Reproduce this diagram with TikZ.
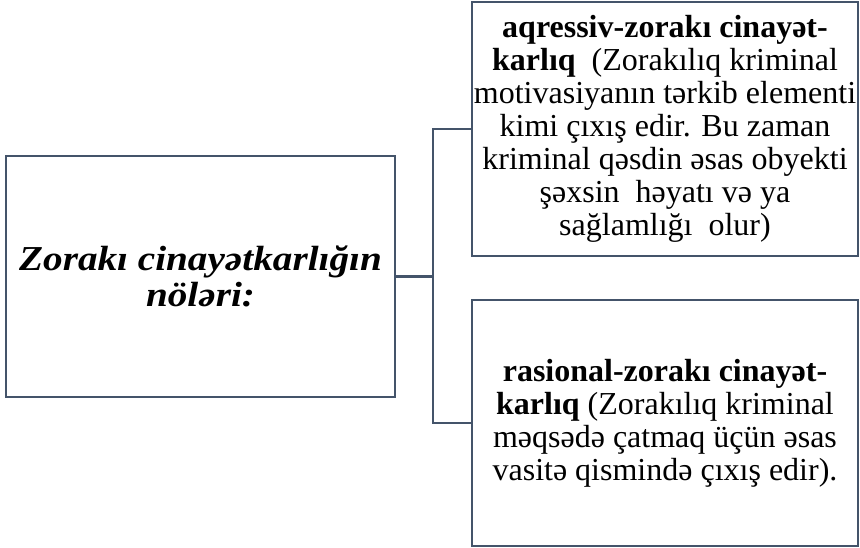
\documentclass[tikz,border=0pt]{standalone}
\usepackage{fontspec}
\setmainfont{Liberation Serif}
\newfontfamily\leftfam[FakeStretch=1.12]{Liberation Serif}
\definecolor{edge}{RGB}{68,84,106}
\begin{document}
\begin{tikzpicture}[x=1pt,y=-1pt,
  box/.style={draw=edge,line width=2.2pt,rectangle,inner sep=0pt,align=center},
  link/.style={draw=edge,line width=2.2pt},
  leftfont/.style={font=\leftfam\fontsize{35}{35.5}\selectfont\bfseries\itshape},
  rightfont/.style={font=\fontsize{32}{33}\selectfont}]
\useasboundingbox (0,0) rectangle (860,547);
\node[box,leftfont,minimum width=389pt,minimum height=241pt] (L) at (200.5,276.5)
  {Zorakı cinayətkarlığın\\nöləri:};
\node[box,rightfont,minimum width=386pt,minimum height=254pt] (T) at (665,129)
  {\textbf{aqressiv-zorakı cinayət-}\\\textbf{karlıq}~ (Zorakılıq kriminal\\motivasiyanın tərkib elementi\\kimi çıxış edir. Bu zaman\\kriminal qəsdin əsas obyekti\\şəxsin~ həyatı və ya\\sağlamlığı~ olur)};
\node[box,rightfont,minimum width=386pt,minimum height=246pt] (B) at (665,423)
  {\textbf{rasional-zorakı cinayət-}\\\textbf{karlıq} (Zorakılıq kriminal\\məqsədə çatmaq üçün əsas\\vasitə qismində çıxış edir).};
\coordinate (j) at (433,276.5);
\draw[link] (L.east) -- (j);
\draw[link] (T.west) -| (j);
\draw[link] (B.west) -| (j);
\end{tikzpicture}
\end{document}
